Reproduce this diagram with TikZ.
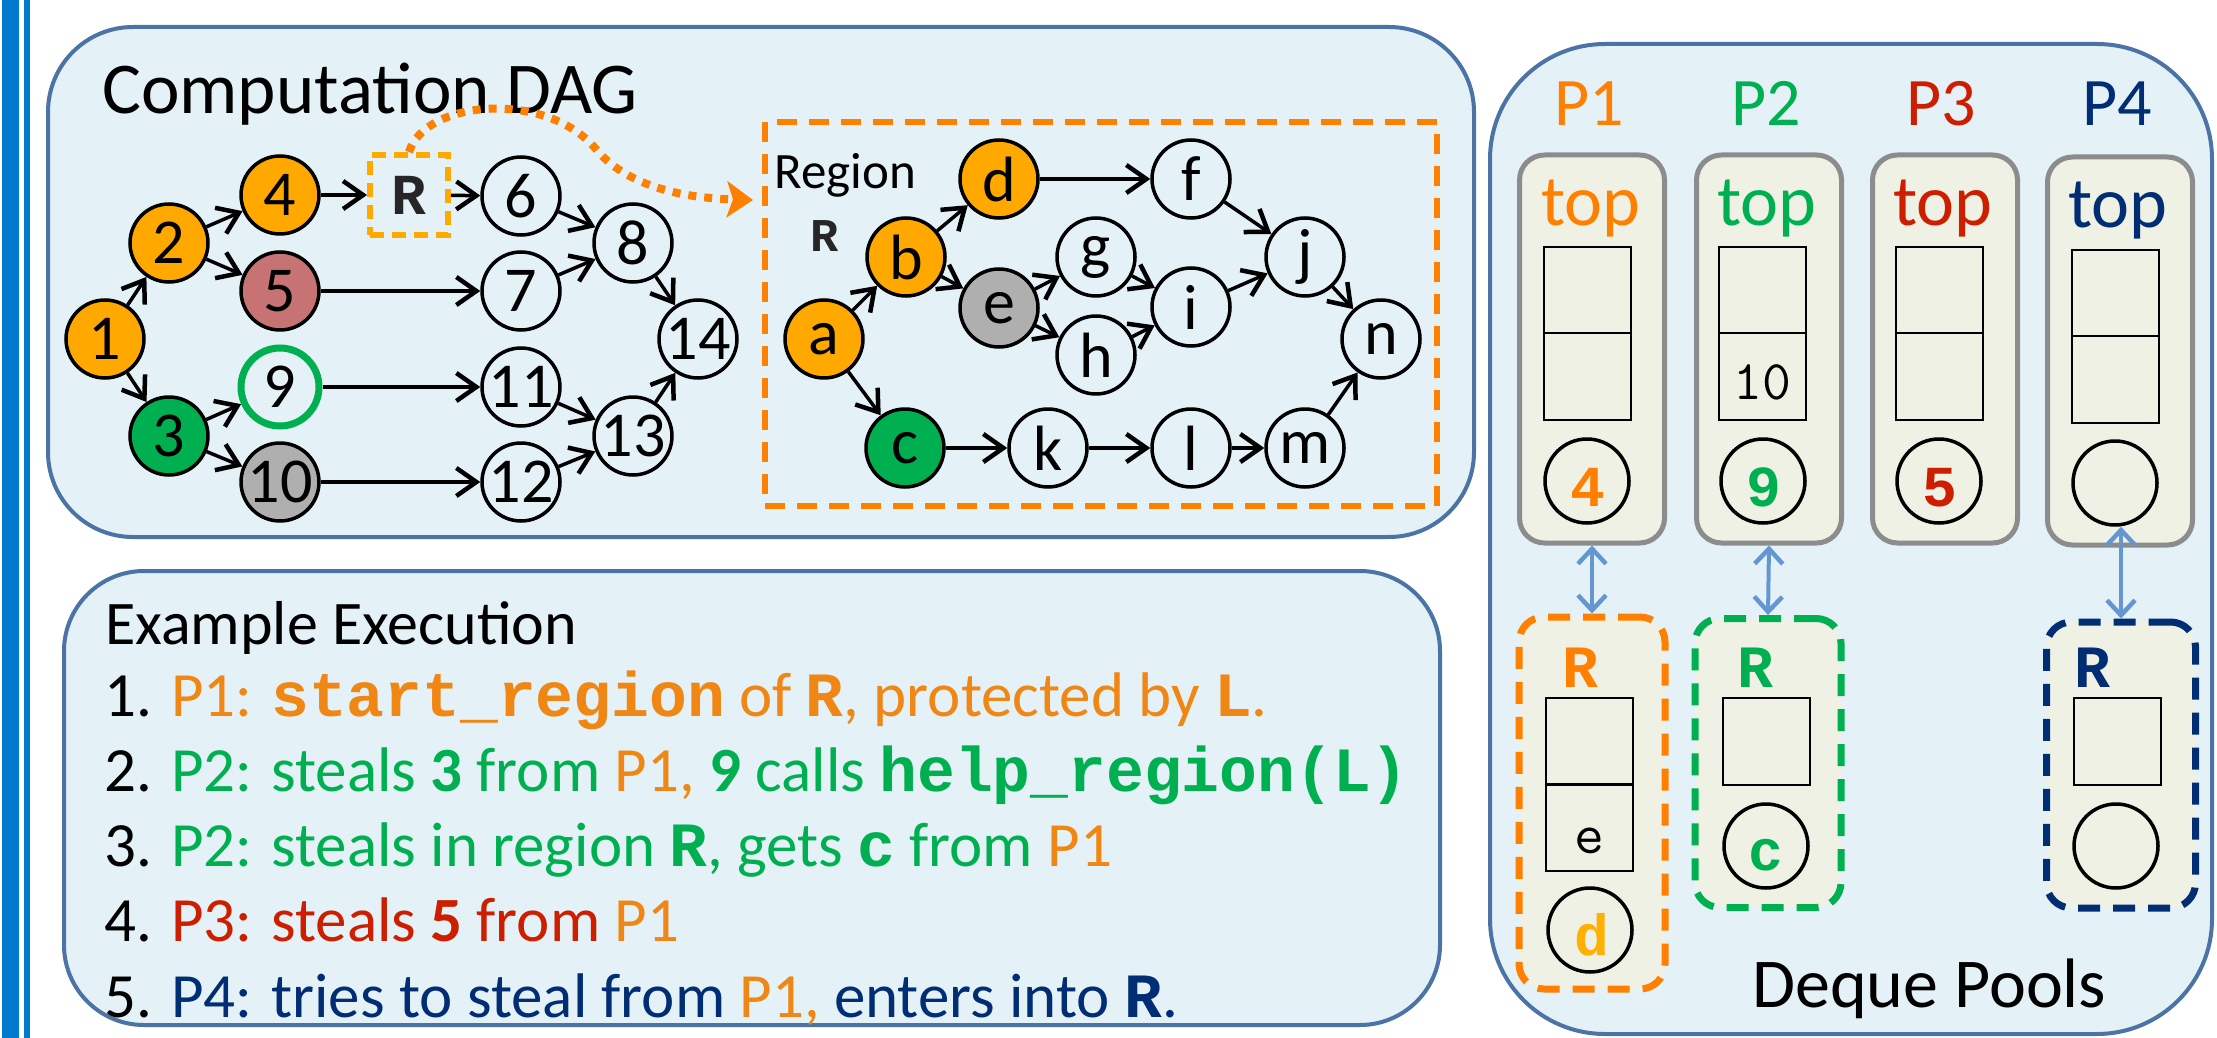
\documentclass[tikz,border=0pt]{standalone}
\usepackage{fontspec}
\setmainfont{Carlito}
\newfontfamily\monofam{Liberation Mono}
\usetikzlibrary{arrows.meta}
\definecolor{panelfill}{RGB}{228,241,247}
\definecolor{panelline}{RGB}{75,115,165}
\definecolor{barblue}{RGB}{0,122,204}
\definecolor{nodeorange}{RGB}{255,168,0}
\definecolor{regorange}{RGB}{255,128,0}
\definecolor{torange}{RGB}{240,135,20}
\definecolor{tgreen}{RGB}{0,176,80}
\definecolor{tred}{RGB}{205,30,0}
\definecolor{tnavy}{RGB}{0,45,115}
\definecolor{rosefill}{RGB}{200,115,115}
\definecolor{grayfill}{RGB}{175,175,175}
\definecolor{creamfill}{RGB}{238,241,228}
\definecolor{boxgray}{RGB}{140,140,140}
\definecolor{arrowblue}{RGB}{100,150,210}
\definecolor{dyellow}{RGB}{255,176,0}
\newcommand\mcb[1]{{\monofam\bfseries #1}}
\newcommand\myfs[1]{\fontsize{#1}{#1}\selectfont}
\begin{document}
\begin{tikzpicture}[x=1pt,y=-1pt,
  panel/.style={draw=panelline, fill=panelfill, line width=4pt},
  dn/.style={circle, draw=black, line width=3.5pt, minimum size=78pt, inner sep=0pt, font=\myfs{64}},
  dagarrow/.style={line width=3.5pt, -{Straight Barb[length=20pt,width=28pt,line width=4.5pt]}},
  dequebox/.style={draw=boxgray, fill=creamfill, line width=5pt, rounded corners=25pt, minimum width=145pt, minimum height=388pt, inner sep=0pt},
  cell/.style={draw=black, line width=2pt, minimum width=87pt, minimum height=86.5pt, inner sep=0pt},
  slot/.style={circle, draw=black, line width=3.5pt, minimum size=84pt, inner sep=0pt},
  regbox/.style={fill=creamfill, line width=7pt, rounded corners=25pt, dash pattern=on 22pt off 13pt, minimum width=146pt, inner sep=0pt},
  dblarrow/.style={draw=arrowblue, line width=4pt, {Straight Barb[length=15pt,width=28pt,line width=4.5pt]}-{Straight Barb[length=15pt,width=28pt,line width=4.5pt]}},
  lbl/.style={inner sep=0pt, anchor=base},
  lblw/.style={inner sep=0pt, anchor=base west},
  dotline/.style={draw=regorange, line width=8pt, dash pattern=on 8pt off 8pt, -{Stealth[length=26pt,width=36pt,inset=6pt]}}
]
\useasboundingbox (0,0) rectangle (2217,1038);
\fill[white] (0,0) rectangle (2217,1038);
% left bars
\fill[barblue] (2,0) rectangle (19,1038);
\fill[barblue] (24,0) rectangle (30,1038);

% panels
\draw[panel, rounded corners=85pt] (48,27) rectangle (1474,537);
\draw[panel, rounded corners=80pt] (64,571) rectangle (1440,1025);
\draw[panel, rounded corners=115pt] (1490,44) rectangle (2212,1034);

% ---------- Computation DAG ----------
\node[lblw, font=\myfs{73}] (dagtitle) at (102,114) {Computation DAG};

\node[dn, fill=nodeorange] (n1) at (105,339) {1};
\node[dn, fill=nodeorange] (n2) at (169,243) {2};
\node[dn, fill=tgreen] (n3) at (169,436) {3};
\node[dn, fill=nodeorange] (n4) at (280,195) {4};
\node[dn, fill=rosefill] (n5) at (280,291) {5};
\node[dn, draw=tgreen, line width=7pt] (n9) at (280,387) {9};
\node[dn, fill=grayfill] (n10) at (280,482) {10};
\node[draw=nodeorange, line width=6pt, dash pattern=on 14pt off 8pt, minimum width=78pt, minimum height=80pt, inner sep=0pt, font=\myfs{58}\monofam\bfseries, text=black!85] (rbox) at (409,195) {R};
\node[dn] (n6) at (521,196) {6};
\node[dn] (n7) at (521,291) {7};
\node[dn] (n11) at (521,387) {11};
\node[dn] (n12) at (521,482) {12};
\node[dn] (n8) at (633,243) {8};
\node[dn] (n13) at (633,436) {13};
\node[dn] (n14) at (698,339) {14};

\foreach \s/\t in {n1/n2,n1/n3,n2/n4,n2/n5,n3/n9,n3/n10,n4/rbox,rbox/n6,n5/n7,n9/n11,n10/n12,n6/n8,n7/n8,n11/n13,n12/n13,n8/n14,n13/n14}
  \draw[dagarrow] (\s) -- (\t);

% region box
\node[draw=regorange, line width=6pt, dash pattern=on 20pt off 12pt, minimum width=672pt, minimum height=384pt, inner sep=0pt] (region) at (1101,314) {};
\node[lblw, font=\myfs{51}] (regtitle) at (774,188) {Region};
\node[lbl, font=\myfs{47}\monofam\bfseries, text=black!85] (rlab) at (825,251) {R};

\node[dn, fill=nodeorange] (ra) at (824,339) {a};
\node[dn, fill=nodeorange] (rb) at (906,257) {b};
\node[dn, fill=tgreen] (rc) at (905,448) {c};
\node[dn, fill=nodeorange] (rd) at (999,179) {d};
\node[dn, fill=grayfill] (re) at (999,308) {e};
\node[dn] (rf) at (1191,179) {f};
\node[dn] (rg) at (1096,257) {g};
\node[dn] (rh) at (1096,355) {h};
\node[dn] (ri) at (1191,307) {i};
\node[dn] (rj) at (1305,257) {j};
\node[dn] (rk) at (1048,448) {k};
\node[dn] (rl) at (1191,448) {l};
\node[dn] (rm) at (1305,448) {m};
\node[dn] (rn) at (1381,339) {n};

\foreach \s/\t in {ra/rb,ra/rc,rb/rd,rb/re,rd/rf,re/rg,re/rh,rg/ri,rh/ri,rf/rj,ri/rj,rj/rn,rc/rk,rk/rl,rl/rm,rm/rn}
  \draw[dagarrow] (\s) -- (\t);

\coordinate (dotend) at (753,200);
\draw[dotline] (rbox.north) .. controls (425,100) and (545,90) .. (595,148) .. controls (625,185) and (680,198) .. (dotend);

% ---------- Example Execution ----------
\node[lblw, font=\myfs{62}] (extitle) at (105,644) {Example Execution};
\node[lblw, font=\myfs{63}] (ex1) at (104,716) {1. \textcolor{torange}{P1: \mcb{start\_region} of \mcb{R}, protected by \mcb{L}.}};
\node[lblw, font=\myfs{63}] (ex2) at (104,791) {2. \textcolor{tgreen}{P2: steals \textbf{3} from \textcolor{torange}{P1,} \textbf{9} calls \mcb{help\_region(L)}}};
\node[lblw, font=\myfs{63}] (ex3) at (104,866) {3. \textcolor{tgreen}{P2: steals in region \mcb{R}, gets \mcb{c} from \textcolor{torange}{P1}}};
\node[lblw, font=\myfs{63}] (ex4) at (104,941) {4. \textcolor{tred}{P3: steals \textbf{5} from \textcolor{torange}{P1}}};
\node[lblw, font=\myfs{63}] (ex5) at (104,1017) {5. \textcolor{tnavy}{P4: tries to steal from \textcolor{torange}{P1,} enters into \mcb{R}.}};

% ---------- Deque Pools ----------
\node[lbl, font=\myfs{68}, text=regorange] (p1) at (1589,126) {P1};
\node[lbl, font=\myfs{68}, text=tgreen] (p2) at (1766,126) {P2};
\node[lbl, font=\myfs{68}, text=tred] (p3) at (1941,126) {P3};
\node[lbl, font=\myfs{68}, text=tnavy] (p4) at (2117,126) {P4};

\node[dequebox] (q1) at (1592,349) {};
\node[dequebox] (q2) at (1769,349) {};
\node[dequebox] (q3) at (1945,349) {};
\node[dequebox] (q4) at (2120,351) {};

\node[lbl, font=\myfs{72}, text=regorange] (t1) at (1591,225) {top};
\node[lbl, font=\myfs{72}, text=tgreen] (t2) at (1767,225) {top};
\node[lbl, font=\myfs{72}, text=tred] (t3) at (1943,225) {top};
\node[lbl, font=\myfs{72}, text=tnavy] (t4) at (2118,227) {top};

\node[cell] (q1a) at (1587,290) {};
\node[cell] (q1b) at (1587,376.5) {};
\node[cell] (q2a) at (1762,290) {};
\node[cell] (q2b) at (1762,376.5) {};
\node[cell] (q3a) at (1939,290) {};
\node[cell] (q3b) at (1939,376.5) {};
\node[cell] (q4a) at (2115,293) {};
\node[cell] (q4b) at (2115,379.5) {};
\node[lbl, font=\myfs{56}\ttfamily] (ten) at (1762,399) {10};

\node[slot] (s1) at (1587,481) {};
\node[slot] (s2) at (1763,481) {};
\node[slot] (s3) at (1939,481) {};
\node[slot] (s4) at (2115,483) {};
\node[lbl, font=\myfs{58}\monofam\bfseries, text=regorange] (s1t) at (1588,506) {4};
\node[lbl, font=\myfs{58}\monofam\bfseries, text=tgreen] (s2t) at (1764,506) {9};
\node[lbl, font=\myfs{58}\monofam\bfseries, text=tred] (s3t) at (1940,506) {5};

% region deques
\node[regbox, draw=regorange, minimum height=372pt] (r1) at (1592,803) {};
\node[regbox, draw=tgreen, minimum height=289pt] (r2) at (1768,763) {};
\node[regbox, draw=tnavy, minimum height=286pt, minimum width=149pt] (r4) at (2121,765) {};

\node[lbl, font=\myfs{60}\monofam\bfseries, text=regorange] (r1t) at (1580,687) {R};
\node[lbl, font=\myfs{60}\monofam\bfseries, text=tgreen] (r2t) at (1755,687) {R};
\node[lbl, font=\myfs{60}\monofam\bfseries, text=tnavy] (r4t) at (2092,687) {R};

\node[cell] (r1a) at (1589,741.5) {};
\node[cell] (r1b) at (1589,827.5) {};
\node[lbl, font=\myfs{58}\ttfamily] (r1e) at (1589,853) {e};
\node[slot] (r1s) at (1590,930) {};
\node[lbl, font=\myfs{58}\monofam\bfseries, text=dyellow] (r1d) at (1592,955) {d};

\node[cell] (r2a) at (1766,741.5) {};
\node[slot] (r2s) at (1766,846) {};
\node[lbl, font=\myfs{58}\monofam\bfseries, text=tgreen] (r2c) at (1766,870) {c};

\node[cell] (r4a) at (2117,741.5) {};
\node[slot] (r4s) at (2116,846) {};

\draw[dblarrow] (q1.south) -- (r1.north);
\draw[dblarrow] (q2.south) -- (r2.north);
\draw[dblarrow] (r4.north |- s4.south) -- (r4.north);

\node[lblw, font=\myfs{70}] (dqtitle) at (1752,1007) {Deque Pools};
\end{tikzpicture}
\end{document}
